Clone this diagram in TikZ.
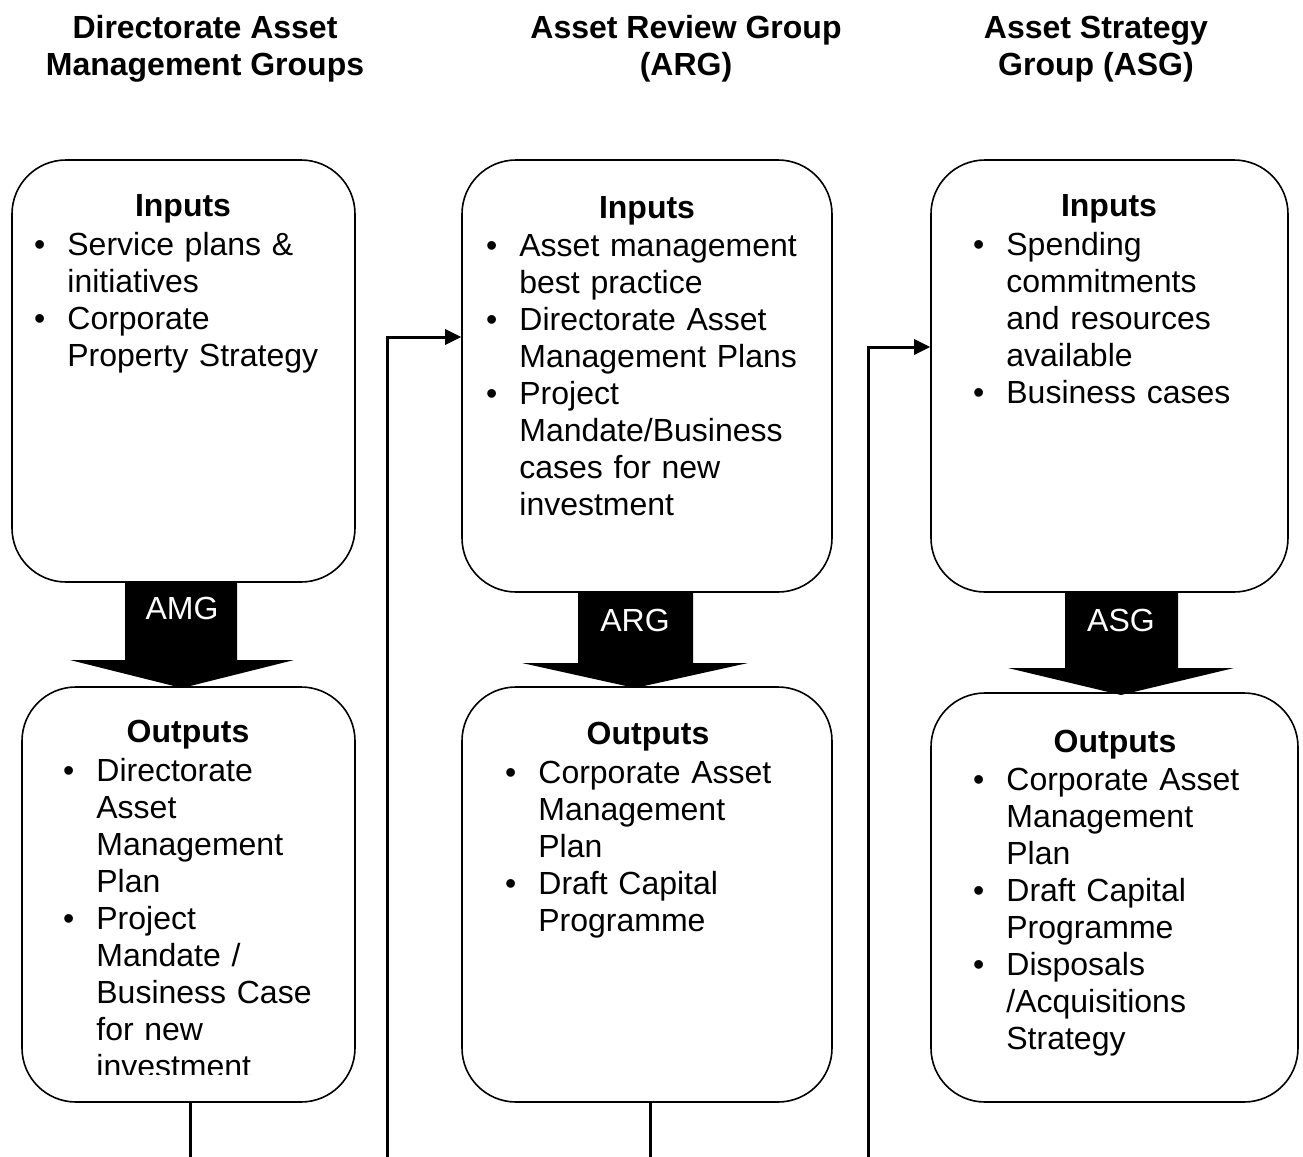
\documentclass[tikz,border=0pt]{standalone}
\usepackage{fontspec}
\setmainfont{Liberation Sans}
\usepackage{enumitem}
\usetikzlibrary{arrows.meta,calc,fit}
\setlist[itemize]{label=\textbullet, leftmargin=15pt, labelsep=11pt,
  itemsep=0pt, topsep=0pt, parsep=0pt, partopsep=0pt}
\newcommand{\diagfont}{\fontsize{16}{18.5}\selectfont}
\tikzset{
  >={Triangle[length=8pt,width=7.5pt]},
  link/.style={draw=black, line width=1.5pt},
  feed/.style={link, ->},
  roundbox/.style={draw=black, line width=0.8pt, rounded corners=27pt, inner sep=0pt},
  heading/.style={font=\diagfont\bfseries, align=center, anchor=base, inner sep=0pt},
  boxtitle/.style={font=\diagfont\bfseries, anchor=base, inner sep=0pt},
  points/.style={font=\diagfont, anchor=base west, inner sep=0pt,
    text width=160pt, align=left},
  bigarrow/.style={fill=black},
  arrowtag/.style={font=\diagfont, text=white, anchor=base, inner sep=0pt}
}

\begin{document}
\begin{tikzpicture}[x=0.5pt,y=-0.5pt]
  \useasboundingbox (0,0) rectangle (1303,1157);

  % column headings
  \node[heading] (hamg) at (205,75) {Directorate Asset\\Management Groups};
  \node[heading] (harg) at (686,75) {Asset Review Group\\(ARG)};
  \node[heading] (hasg) at (1096,75) {Asset Strategy\\Group (ASG)};

  % block arrows
  \fill[bigarrow] (125,582) -- (237,582) -- (237,660) -- (294,660)
    -- (182,688) -- (70,660) -- (125,660) -- cycle;
  \fill[bigarrow] (578,592) -- (693,592) -- (693,663) -- (748,663)
    -- (635,688) -- (522,663) -- (578,663) -- cycle;
  \fill[bigarrow] (1065,592) -- (1178,592) -- (1178,668) -- (1234,668)
    -- (1121,695) -- (1008,668) -- (1065,668) -- cycle;
  \node[arrowtag] (tamg) at (182,619) {AMG};
  \node[arrowtag] (targ) at (635,631) {ARG};
  \node[arrowtag] (tasg) at (1121,631) {ASG};

  % boxes
  \node[roundbox, fit={(12,160) (355,582)}] (inamg) {};
  \node[roundbox, fit={(22,687) (355,1102)}] (outamg) {};
  \node[roundbox, fit={(462,160) (832,592)}] (inarg) {};
  \node[roundbox, fit={(462,687) (832,1102)}] (outarg) {};
  \node[roundbox, fit={(931,160) (1288,592)}] (inasg) {};
  \node[roundbox, fit={(931,693) (1298,1102)}] (outasg) {};

  % AMG
  \node[boxtitle] (tiinamg) at (183,216) {Inputs};
  \node[points] (liinamg) at (37,218) {\begin{itemize}
    \item Service plans \&\newline initiatives
    \item Corporate\newline Property Strategy
  \end{itemize}};
  \node[boxtitle] (tioutamg) at (188,742) {Outputs};
  \begin{scope}
    \clip (0,0) rectangle (1303,1074);
    \node[points] (lioutamg) at (66,744) {\begin{itemize}
      \item Directorate\newline Asset\newline Management\newline Plan
      \item Project\newline Mandate /\newline Business Case\newline for new\newline investment
    \end{itemize}};
  \end{scope}

  % ARG
  \node[boxtitle] (tiinarg) at (647,218) {Inputs};
  \node[points] (liinarg) at (489,219) {\begin{itemize}
    \item Asset management\newline best practice
    \item Directorate Asset\newline Management Plans
    \item Project\newline Mandate/Business\newline cases for new\newline investment
  \end{itemize}};
  \node[boxtitle] (tioutarg) at (648,744) {Outputs};
  \node[points] (lioutarg) at (508,746) {\begin{itemize}
    \item Corporate Asset\newline Management\newline Plan
    \item Draft Capital\newline Programme
  \end{itemize}};

  % ASG
  \node[boxtitle] (tiinasg) at (1109,216) {Inputs};
  \node[points] (liinasg) at (976,218) {\begin{itemize}
    \item Spending\newline commitments\newline and resources\newline available
    \item Business cases
  \end{itemize}};
  \node[boxtitle] (tioutasg) at (1115,752) {Outputs};
  \node[points] (lioutasg) at (976,753) {\begin{itemize}
    \item Corporate Asset\newline Management\newline Plan
    \item Draft Capital\newline Programme
    \item Disposals\newline /Acquisitions\newline Strategy
  \end{itemize}};

  % connectors
  \coordinate (amgfoot) at (190,1157);
  \coordinate (argfoot) at (650,1157);
  \coordinate (argfeed) at (387,1157);
  \coordinate (asgfeed) at (868,1157);
  \draw[link] (outamg.south -| amgfoot) -- (amgfoot);
  \draw[link] (outarg.south -| argfoot) -- (argfoot);
  \draw[feed] (argfeed) |- ($(inarg.west)+(0,-39)$);
  \draw[feed] (asgfeed) |- ($(inasg.west)+(0,-29)$);
\end{tikzpicture}
\end{document}
